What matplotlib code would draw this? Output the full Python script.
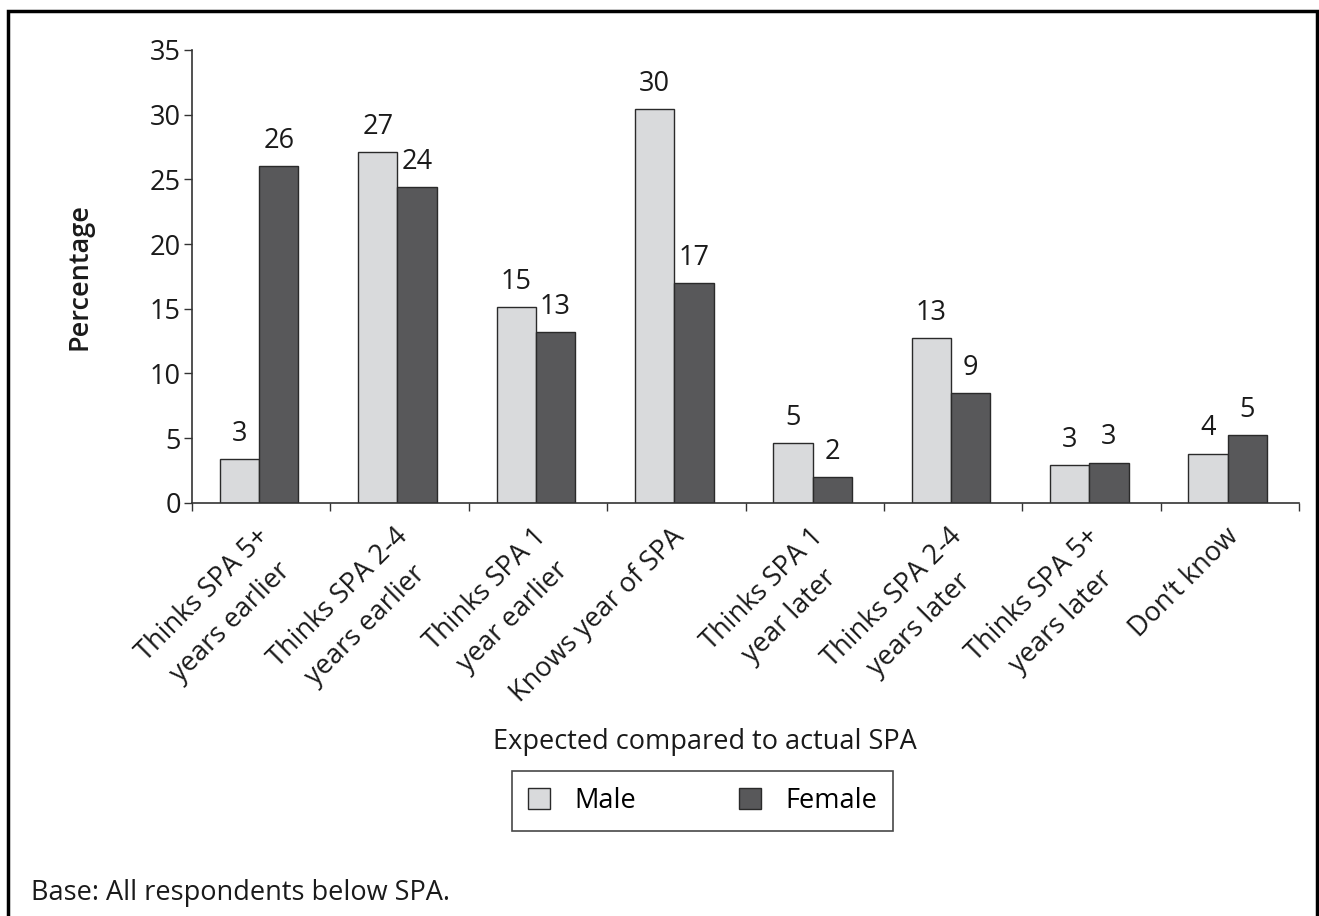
import math
import matplotlib
matplotlib.use("Agg")
import matplotlib.pyplot as plt
from matplotlib.lines import Line2D
from matplotlib.patches import Patch

plt.rcParams['font.family'] = ['Open Sans', 'DejaVu Sans']

categories = [
    "Thinks SPA 5+\nyears earlier",
    "Thinks SPA 2-4\nyears earlier",
    "Thinks SPA 1\nyear earlier",
    "Knows year of SPA",
    "Thinks SPA 1\nyear later",
    "Thinks SPA 2-4\nyears later",
    "Thinks SPA 5+\nyears later",
    "Don\u2019t know",
]
male = [3.4, 27.1, 15.1, 30.4, 4.6, 12.7, 2.9, 3.8]
female = [26.0, 24.4, 13.2, 17.0, 2.0, 8.5, 3.1, 5.2]
series_names = ["Male", "Female"]
y_ticks = [0, 5, 10, 15, 20, 25, 30, 35]

W, H = 1319, 916
fig = plt.figure(figsize=(W / 100, H / 100), dpi=100)

def fx(px):
    return px / W

def fy(py):
    return 1 - py / H

ax = fig.add_axes([fx(192), fy(502.7), fx(1299) - fx(192), fy(50) - fy(502.7)])

male_color = "#d9dadc"
female_color = "#58585a"
edge = "#2a2a2a"
txt = "#1a1a1a"
fs = 19.5

n = len(categories)
bw = 0.284
xs = [i + 0.5 for i in range(n)]
mb = ax.bar([x - bw / 2 - 0.015 for x in xs], male, width=bw, color=male_color,
            edgecolor=edge, linewidth=1.0, label=series_names[0], zorder=2)
fb = ax.bar([x + bw / 2 - 0.015 for x in xs], female, width=bw, color=female_color,
            edgecolor=edge, linewidth=1.0, label=series_names[1], zorder=2)

def half_up(v):
    return int(math.floor(v + 0.5))

for bars, vals in ((mb, male), (fb, female)):
    for rect, v in zip(bars, vals):
        ax.annotate(str(half_up(v)), (rect.get_x() + rect.get_width() / 2, v),
                    xytext=(0, 8), textcoords="offset points",
                    ha="center", va="bottom", fontsize=fs, color=txt)

ax.set_xlim(0, n)
ax.set_ylim(0, 35)
ax.set_yticks(y_ticks)
ax.set_yticklabels([str(t) for t in y_ticks], fontsize=fs, color=txt)
ax.set_xticks(range(n + 1))
ax.set_xticklabels([])
ax.tick_params(axis="both", direction="out", length=6, width=1, color="#333333")
ax.tick_params(axis="y", pad=2)

for s in ("top", "right"):
    ax.spines[s].set_visible(False)
for s in ("left", "bottom"):
    ax.spines[s].set_color("#333333")
    ax.spines[s].set_linewidth(1.2)

# rotated two-line category labels
for x, lab in zip(xs, categories):
    ax.annotate(lab, (x, 0), xytext=(-4, -14.5), textcoords="offset points",
                rotation=45, rotation_mode="anchor", ha="right", va="top",
                multialignment="center", fontsize=fs, color=txt,
                linespacing=1.5)

ax.set_ylabel("Percentage", fontsize=fs, fontweight="semibold", color=txt)
ax.yaxis.set_label_coords((93 - 192) / (1299 - 192), 0.5)

fig.text(fx(705), fy(749), "Expected compared to actual SPA", ha="center",
         va="baseline", fontsize=fs, color=txt)

handles = [Patch(facecolor=male_color, edgecolor=edge, linewidth=1.0),
           Patch(facecolor=female_color, edgecolor=edge, linewidth=1.0)]
leg = fig.legend(handles, series_names, loc="center", ncol=2,
                 bbox_to_anchor=(fx(702.5), fy(801)), fontsize=fs,
                 frameon=True, fancybox=False, edgecolor=txt,
                 handlelength=0.8, handleheight=0.8, handletextpad=0.9,
                 columnspacing=3.8, borderpad=0.6)
leg.get_frame().set_linewidth(1.2)

fig.text(fx(31), fy(900), "Base: All respondents below SPA.", ha="left",
         va="baseline", fontsize=fs, color=txt)

# outer frame (left, top, right)
fig.add_artist(Line2D([fx(8), fx(8), fx(1317), fx(1317)],
                      [0, fy(11), fy(11), 0], transform=fig.transFigure,
                      color="black", linewidth=2.5, solid_joinstyle="miter"))

fig.savefig("out.png", dpi=100)
